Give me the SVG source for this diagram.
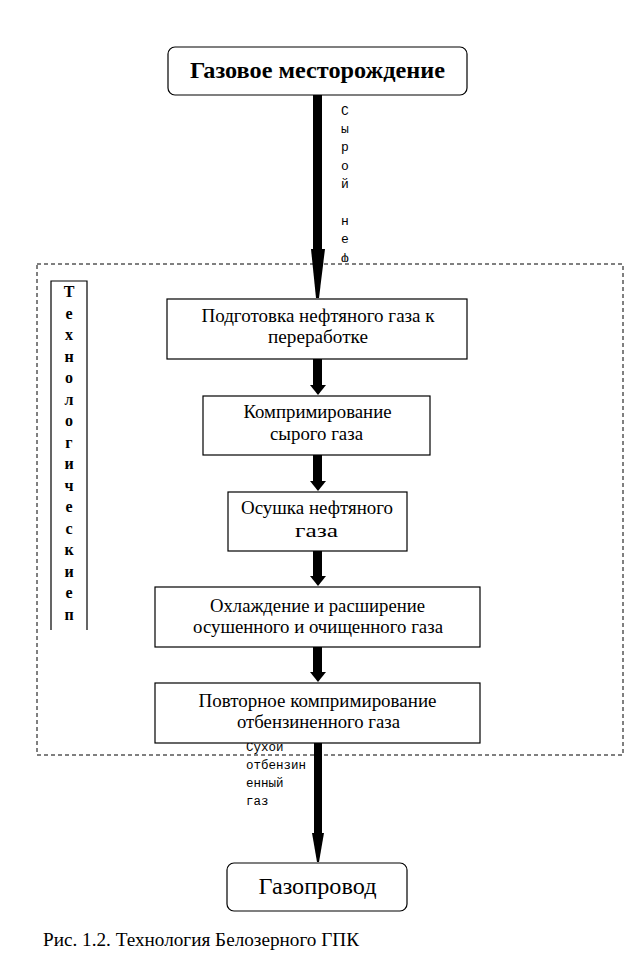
<svg xmlns="http://www.w3.org/2000/svg" width="636" height="972" viewBox="0 0 636 972">
<style>
.box{fill:#fff;stroke:#000;stroke-width:1.2}
.t{font-family:Liberation Serif, Times New Roman, serif;fill:#000;text-anchor:middle}
.bt{font-size:18px}
.m{font-family:Liberation Mono, Courier New, monospace;font-size:12.5px;fill:#000}
.v{font-family:Liberation Serif, Times New Roman, serif;font-weight:bold;font-size:16px;text-anchor:middle}
.vm{text-anchor:middle;font-size:13px}
</style>
<defs>
<clipPath id="clipTop"><rect x="330" y="95" width="40" height="167"/></clipPath>
</defs>
<rect width="636" height="972" fill="#fff"/>
<g id="region">
<rect x="37" y="264" width="586" height="491" fill="none" stroke="#000" stroke-width="1" stroke-dasharray="4,3"/>
</g>
<g id="side-label">
<path d="M51 630 V281 H87 V630" fill="none" stroke="#000" stroke-width="1.2"/>
<text class="v" font-family="Liberation Serif, Times New Roman, serif">
<tspan x="69" y="297">Т</tspan><tspan x="69" y="318.5">е</tspan><tspan x="69" y="340">х</tspan><tspan x="69" y="361.5">н</tspan><tspan x="69" y="383">о</tspan><tspan x="69" y="404.5">л</tspan><tspan x="69" y="426">о</tspan><tspan x="69" y="447.5">г</tspan><tspan x="69" y="469">и</tspan><tspan x="69" y="490.5">ч</tspan><tspan x="69" y="512">е</tspan><tspan x="69" y="533.5">с</tspan><tspan x="69" y="555">к</tspan><tspan x="69" y="576.5">и</tspan><tspan x="69" y="598">е</tspan><tspan x="69" y="619.5">п</tspan>
</text>
</g>
<g id="connectors" fill="#000">
<rect x="313" y="95" width="9" height="155"/>
<polygon points="311,249 325,249 319,298 316,298"/>
<rect x="313" y="359" width="9" height="27"/>
<polygon points="310,385 326,385 318,395"/>
<rect x="313" y="455" width="9" height="27"/>
<polygon points="310,481 326,481 318,491"/>
<rect x="313" y="551" width="9" height="26"/>
<polygon points="310,576 326,576 318,586"/>
<rect x="313" y="647" width="9" height="26"/>
<polygon points="310,672 326,672 318,682"/>
<rect x="314" y="743" width="8" height="91"/>
<polygon points="312,833 324,833 319,862 317,862"/>
<text class="m vm" font-family="Liberation Mono, Courier New, monospace" clip-path="url(#clipTop)">
<tspan x="345" y="115">С</tspan><tspan x="345" y="133">ы</tspan><tspan x="345" y="151">р</tspan><tspan x="345" y="169.5">о</tspan><tspan x="345" y="188">й</tspan><tspan x="345" y="225">н</tspan><tspan x="345" y="243">е</tspan><tspan x="345" y="261.5">ф</tspan>
</text>
<text class="m" font-family="Liberation Mono, Courier New, monospace">
<tspan x="246" y="751">Сухой</tspan><tspan x="246" y="769">отбензин</tspan><tspan x="246" y="787">енный</tspan><tspan x="246" y="805">газ</tspan>
</text>
</g>
<g id="n-field">
<rect class="box" x="168" y="47" width="299" height="48" rx="7"/>
<text class="t" font-family="Liberation Serif, Times New Roman, serif" x="317.5" y="78" font-size="23" font-weight="bold" textLength="255" lengthAdjust="spacingAndGlyphs">Газовое месторождение</text>
</g>
<g id="n-prep" font-family="Liberation Serif, Times New Roman, serif">
<rect class="box" x="167" y="299" width="300" height="60"/>
<text class="t bt" x="318" y="322" textLength="233" lengthAdjust="spacingAndGlyphs">Подготовка нефтяного газа к</text>
<text class="t bt" x="318" y="343" textLength="100" lengthAdjust="spacingAndGlyphs">переработке</text>
</g>
<g id="n-comp" font-family="Liberation Serif, Times New Roman, serif">
<rect class="box" x="203" y="396" width="227" height="59"/>
<text class="t bt" x="317.5" y="418" textLength="148" lengthAdjust="spacingAndGlyphs">Компримирование</text>
<text class="t bt" x="316.5" y="440" textLength="93" lengthAdjust="spacingAndGlyphs">сырого газа</text>
</g>
<g id="n-dry" font-family="Liberation Serif, Times New Roman, serif">
<rect class="box" x="228" y="492" width="179" height="59"/>
<text class="t bt" x="317" y="514" textLength="152" lengthAdjust="spacingAndGlyphs">Осушка нефтяного</text>
<text class="t bt" x="316.5" y="537" textLength="43" lengthAdjust="spacingAndGlyphs">газа</text>
</g>
<g id="n-cool" font-family="Liberation Serif, Times New Roman, serif">
<rect class="box" x="155" y="587" width="325" height="60"/>
<text class="t bt" x="317.5" y="612" textLength="215" lengthAdjust="spacingAndGlyphs">Охлаждение и расширение</text>
<text class="t bt" x="318" y="633" textLength="250" lengthAdjust="spacingAndGlyphs">осушенного и очищенного газа</text>
</g>
<g id="n-recomp" font-family="Liberation Serif, Times New Roman, serif">
<rect class="box" x="155" y="683" width="325" height="60"/>
<text class="t bt" x="317.5" y="707" textLength="238" lengthAdjust="spacingAndGlyphs">Повторное компримирование</text>
<text class="t bt" x="318.5" y="728" textLength="163" lengthAdjust="spacingAndGlyphs">отбензиненного газа</text>
</g>
<g id="n-pipe" font-family="Liberation Serif, Times New Roman, serif">
<rect class="box" x="227" y="863" width="180" height="48" rx="7"/>
<text class="t" x="317.5" y="894" font-size="24" textLength="118" lengthAdjust="spacingAndGlyphs">Газопровод</text>
</g>
<text x="43" y="946" font-family="Liberation Serif, Times New Roman, serif" font-size="18" fill="#000" textLength="316" lengthAdjust="spacingAndGlyphs">Рис. 1.2. Технология Белозерного ГПК</text>
</svg>
